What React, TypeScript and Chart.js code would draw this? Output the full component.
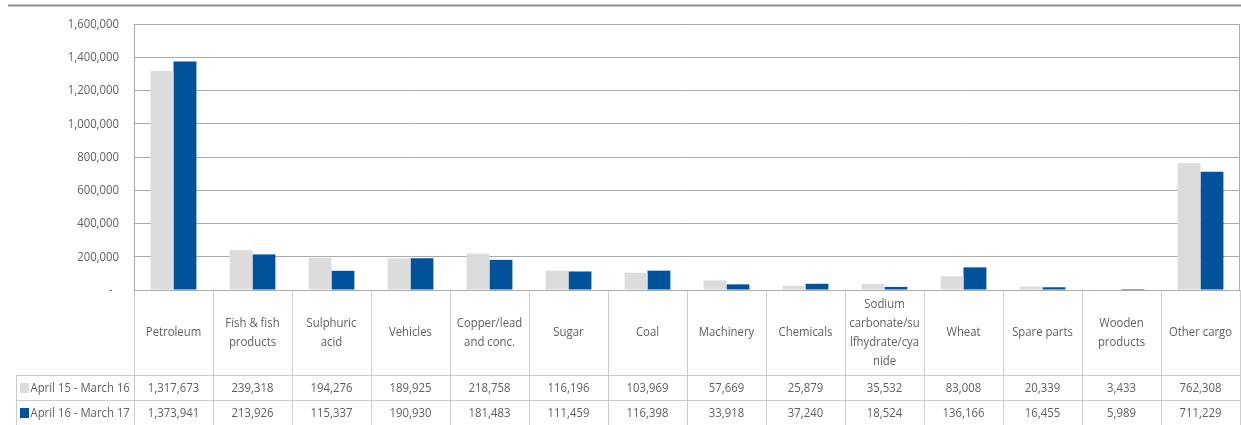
import React, { useEffect, useRef } from "react";
import { Chart, registerables } from "chart.js";

Chart.register(...registerables);

// Cargo categories (table header lines)
const categories: string[][] = [
  ["Petroleum"],
  ["Fish & fish", "products"],
  ["Sulphuric", "acid"],
  ["Vehicles"],
  ["Copper/lead", "and conc."],
  ["Sugar"],
  ["Coal"],
  ["Machinery"],
  ["Chemicals"],
  ["Sodium", "carbonate/su", "lfhydrate/cya", "nide"],
  ["Wheat"],
  ["Spare parts"],
  ["Wooden", "products"],
  ["Other cargo"],
];

const seriesNames = ["April 15 - March 16", "April 16 - March 17"];

const fy2016 = [
  1317673, 239318, 194276, 189925, 218758, 116196, 103969, 57669, 25879,
  35532, 83008, 20339, 3433, 762308,
];

const fy2017 = [
  1373941, 213926, 115337, 190930, 181483, 111459, 116398, 33918, 37240,
  18524, 136166, 16455, 5989, 711229,
];

const yTicks = [0, 200000, 400000, 600000, 800000, 1000000, 1200000, 1400000, 1600000];

const colors = ["#dcdcdc", "#00539b"];

const FONT = "'Open Sans', 'Noto Sans', sans-serif";
const TEXT = "#5f5f5f";
const SX = 0.84; // horizontal squeeze for a condensed look

const fmt = (v: number) => v.toLocaleString("en-US");

function squeezedText(ctx: CanvasRenderingContext2D, text: string, x: number, y: number, align: CanvasTextAlign) {
  ctx.save();
  ctx.translate(x, y);
  ctx.scale(SX, 1);
  ctx.textAlign = align;
  ctx.fillText(text, 0, 0);
  ctx.restore();
}

// Draws y tick labels, the data table beneath the plot, the plot frame and the page rule
const tablePlugin = {
  id: "dataTable",
  afterDraw(chart: any) {
    const { ctx, chartArea, scales } = chart;
    const x = scales.x;
    const y = scales.y;
    const left = chartArea.left;
    const right = chartArea.right;
    const n = categories.length;
    const colW = (right - left) / n;
    const top = chartArea.bottom;
    const row1 = top + 85;
    const row2 = row1 + 25;
    const bottom = row2 + 25;
    const labelLeft = 16;

    ctx.save();

    // page rule along the top
    ctx.strokeStyle = "#8f8f8f";
    ctx.lineWidth = 2;
    ctx.beginPath();
    ctx.moveTo(8, 5.5);
    ctx.lineTo(chart.width, 5.5);
    ctx.stroke();

    // right frame of the plot
    ctx.strokeStyle = "#ababab";
    ctx.lineWidth = 1;
    ctx.beginPath();
    ctx.moveTo(Math.round(right) - 0.5, chartArea.top);
    ctx.lineTo(Math.round(right) - 0.5, top);
    ctx.stroke();

    // table grid
    ctx.strokeStyle = "#cccccc";
    ctx.lineWidth = 1;
    ctx.beginPath();
    for (let k = 0; k <= n; k++) {
      const xx = Math.round(left + k * colW) + 0.5;
      ctx.moveTo(xx, top);
      ctx.lineTo(xx, bottom);
    }
    ctx.moveTo(labelLeft + 0.5, row1);
    ctx.lineTo(labelLeft + 0.5, bottom);
    [row1, row2].forEach((yy) => {
      ctx.moveTo(labelLeft, Math.round(yy) + 0.5);
      ctx.lineTo(right, Math.round(yy) + 0.5);
    });
    ctx.stroke();

    // x-axis baseline
    ctx.strokeStyle = "#ababab";
    ctx.beginPath();
    ctx.moveTo(left, Math.round(top) + 0.5);
    ctx.lineTo(right, Math.round(top) + 0.5);
    ctx.stroke();

    ctx.fillStyle = TEXT;
    ctx.font = `13.5px ${FONT}`;
    ctx.textBaseline = "middle";

    // y tick labels
    yTicks.forEach((v) => {
      const py = y.getPixelForValue(v);
      if (v === 0) squeezedText(ctx, "-", 110.5, py, "center");
      else squeezedText(ctx, fmt(v), left - 15, py, "right");
    });

    // category headers
    const lineH = 19;
    const headMid = (top + row1) / 2;
    categories.forEach((lines, i) => {
      const cx = x.getPixelForValue(i);
      const y0 = headMid - ((lines.length - 1) * lineH) / 2;
      lines.forEach((t, j) => squeezedText(ctx, t, cx, y0 + j * lineH, "center"));
    });

    // value rows
    [fy2016, fy2017].forEach((vals, r) => {
      const cy = (r === 0 ? (row1 + row2) / 2 : (row2 + bottom) / 2) + 0.5;
      ctx.fillStyle = TEXT;
      vals.forEach((v, i) => squeezedText(ctx, fmt(v), x.getPixelForValue(i), cy, "center"));
      // legend key and series name
      ctx.fillStyle = colors[r];
      ctx.fillRect(20, Math.round(cy - 5), 9, 10);
      ctx.fillStyle = TEXT;
      squeezedText(ctx, seriesNames[r], 30.5, cy, "left");
    });

    ctx.restore();
  },
};

export default function App() {
  const ref = useRef<HTMLCanvasElement>(null);

  useEffect(() => {
    if (!ref.current) return;
    const chart = new Chart(ref.current, {
      type: "bar",
      data: {
        labels: categories.map((c) => c.join(" ")),
        datasets: [
          {
            label: seriesNames[0],
            data: fy2016,
            backgroundColor: colors[0],
            categoryPercentage: 0.58,
            barPercentage: 1,
          },
          {
            label: seriesNames[1],
            data: fy2017,
            backgroundColor: colors[1],
            categoryPercentage: 0.58,
            barPercentage: 1,
          },
        ],
      },
      options: {
        animation: false,
        responsive: false,
        maintainAspectRatio: false,
        layout: { padding: { top: 24, bottom: 135, left: 0, right: 1 } },
        plugins: {
          legend: { display: false },
          tooltip: { enabled: false },
        },
        scales: {
          x: { display: false },
          y: {
            min: 0,
            max: 1600000,
            afterBuildTicks: (scale: any) => {
              scale.ticks = yTicks.map((v) => ({ value: v }));
            },
            afterFit: (scale: any) => {
              scale.width = 134;
            },
            ticks: { display: false },
            grid: { color: "#ababab", drawTicks: false },
            border: { display: true, color: "#ababab" },
          },
        },
      },
      plugins: [tablePlugin],
    });
    return () => chart.destroy();
  }, []);

  return (
    <div style={{ position: "absolute", left: 0, top: 0, width: 1241, height: 425, background: "#fff" }}>
      <canvas ref={ref} width={1241} height={425} style={{ display: "block", width: 1241, height: 425 }} />
    </div>
  );
}
